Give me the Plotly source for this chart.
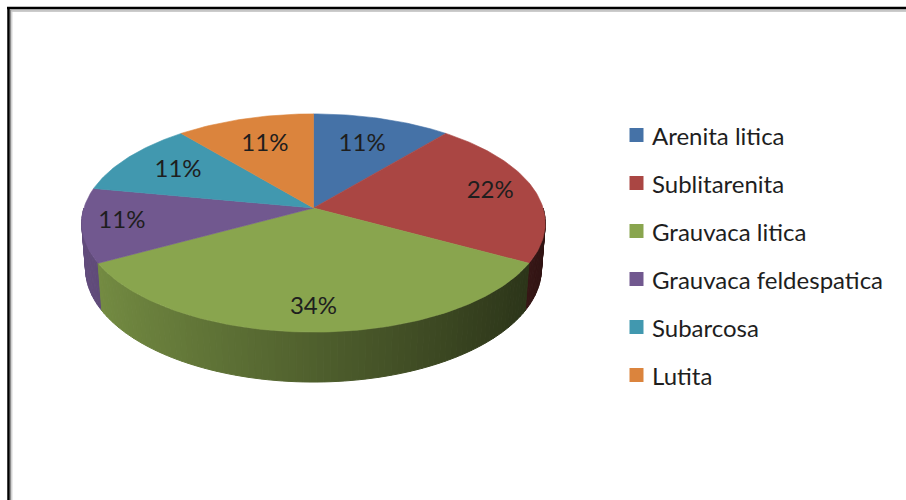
import numpy as np
import plotly.graph_objects as go

# Rock classification shares (percent)
categories = ["Arenita litica", "Sublitarenita", "Grauvaca litica",
              "Grauvaca feldespatica", "Subarcosa", "Lutita"]
shares = [11, 22, 34, 11, 11, 11]
colors = ["#4572A7", "#AA4643", "#89A54E", "#71588F", "#4198AF", "#DB843D"]

# label distance from the centre, as a fraction of the radius
label_r = [0.68, 0.80, 0.83, 0.83, 0.72, 0.68]

# perspective view of a flat cylinder (pixel-based axes)
CX, CY = 313.5, 208.0
FOC, DIST = 1476.0, 6.43
ELEV = np.radians(27.8)
THICK = 0.226
SE, CE = np.sin(ELEV), np.cos(ELEV)


def project(theta, r=1.0, h=0.0):
    """Point on the disc at clockwise angle theta from 12 o'clock, depth h."""
    u = r * np.sin(theta)
    v = -r * np.cos(theta)
    ycam = v * SE + h * CE
    z = DIST - v * CE + h * SE
    return CX + FOC * u / z, CY + FOC * ycam / z


def shade(hex_color, k):
    h = hex_color.lstrip("#")
    rgb = [int(h[i:i + 2], 16) for i in (0, 2, 4)]
    return "rgb({},{},{})".format(*[int(round(min(255, c * k))) for c in rgb])


total = float(sum(shares))
bounds = np.concatenate([[0.0], np.cumsum(shares)]) / total * 2 * np.pi

fig = go.Figure()

# side wall, built from thin strips and painted back to front
strips = []
for i, col in enumerate(colors):
    a0, a1 = bounds[i], bounds[i + 1]
    lo, hi = max(a0, np.pi / 2), min(a1, 3 * np.pi / 2)
    if hi <= lo:
        continue
    n = max(2, int(np.degrees(hi - lo) / 1.5))
    edges = np.linspace(lo, hi, n + 1)
    for t0, t1 in zip(edges[:-1], edges[1:]):
        tm = 0.5 * (t0 + t1)
        strips.append((-np.cos(tm), t0, t1, shade(col, 0.58 - 0.30 * np.sin(tm))))
strips.sort(key=lambda s: s[0])
for _, t0, t1, c in strips:
    xt0, yt0 = project(t0)
    xt1, yt1 = project(t1)
    xb1, yb1 = project(t1, h=THICK)
    xb0, yb0 = project(t0, h=THICK)
    fig.add_trace(go.Scatter(
        x=[xt0, xt1, xb1, xb0, xt0], y=[yt0, yt1, yb1, yb0, yt0],
        mode="lines", fill="toself", fillcolor=c,
        line=dict(color=c, width=1), hoverinfo="skip", showlegend=False))

# top faces of the slices
for i, col in enumerate(colors):
    a0, a1 = bounds[i], bounds[i + 1]
    n = max(8, int(np.degrees(a1 - a0)))
    ts = np.linspace(a0, a1, n + 1)
    ax, ay = project(ts)
    xs = np.concatenate([[CX], ax, [CX]])
    ys = np.concatenate([[CY], ay, [CY]])
    fig.add_trace(go.Scatter(
        x=xs, y=ys, mode="lines", fill="toself", fillcolor=col,
        line=dict(color=col, width=0.6), name=categories[i],
        hoverinfo="skip", showlegend=False))

# percentage labels
mids = 0.5 * (bounds[:-1] + bounds[1:])
lx, ly = [], []
for m, r in zip(mids, label_r):
    px, py = project(m, r=r)
    lx.append(px)
    ly.append(py)
fig.add_trace(go.Scatter(
    x=lx, y=ly, mode="text", text=[f"{v}%" for v in shares],
    textposition="middle center",
    textfont=dict(family="Lato", size=24, color="#1e1e1e"),
    hoverinfo="skip", showlegend=False))

# legend
leg_x, leg_y0, leg_dy = 636.5, 135.0, 48.0
leg_y = [leg_y0 + k * leg_dy for k in range(len(categories))]
fig.add_trace(go.Scatter(
    x=[leg_x] * len(categories), y=leg_y, mode="markers",
    marker=dict(symbol="square", size=14, color=colors, line=dict(width=0)),
    hoverinfo="skip", showlegend=False))
annotations = []
for name, yy in zip(categories, leg_y):
    annotations.append(dict(
        x=650, y=yy, xref="x", yref="y", text=name, showarrow=False,
        xanchor="left", yanchor="middle",
        font=dict(family="Lato", size=24, color="#1e1e1e")))

# chart frame (top and left edges)
shapes = [
    dict(type="line", xref="x", yref="y", x0=7, x1=906, y0=8, y1=8,
         line=dict(color="#000000", width=2.5)),
    dict(type="line", xref="x", yref="y", x0=10, x1=906, y0=10, y1=10,
         line=dict(color="#8c8c8c", width=1.2)),
    dict(type="line", xref="x", yref="y", x0=11, x1=906, y0=11.3, y1=11.3,
         line=dict(color="#cccccc", width=1.2)),
    dict(type="line", xref="x", yref="y", x0=8.5, x1=8.5, y0=7, y1=500,
         line=dict(color="#000000", width=2.5)),
    dict(type="line", xref="x", yref="y", x0=10.6, x1=10.6, y0=10, y1=500,
         line=dict(color="#8c8c8c", width=1.2)),
    dict(type="line", xref="x", yref="y", x0=11.8, x1=11.8, y0=11, y1=500,
         line=dict(color="#cccccc", width=1.2)),
]

fig.update_layout(
    width=906, height=500,
    margin=dict(l=0, r=0, t=0, b=0),
    paper_bgcolor="white", plot_bgcolor="white",
    xaxis=dict(range=[0, 906], visible=False, fixedrange=True),
    yaxis=dict(range=[500, 0], visible=False, fixedrange=True),
    showlegend=False,
    annotations=annotations,
    shapes=shapes,
)

fig.write_html("out.html")
